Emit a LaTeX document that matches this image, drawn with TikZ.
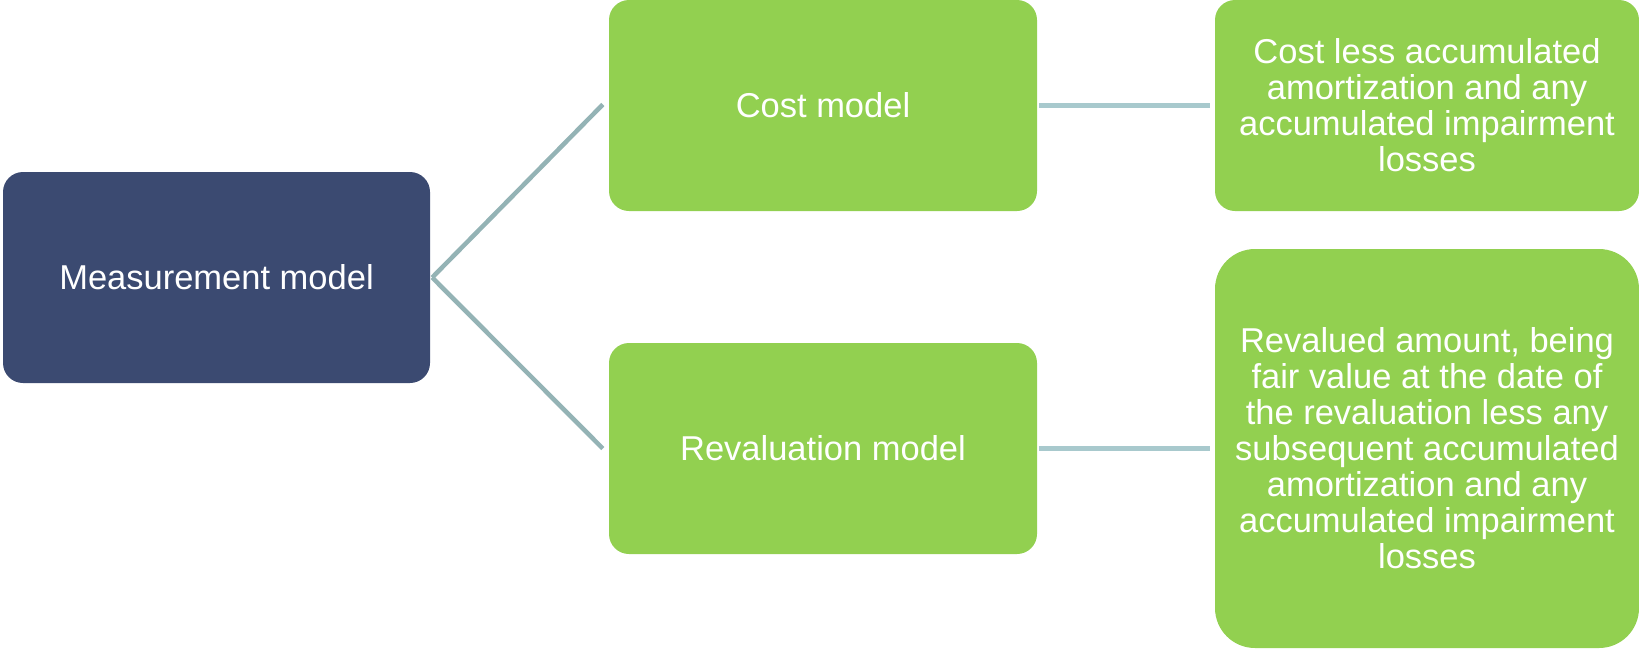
\documentclass[tikz,border=0pt]{standalone}
\usepackage{fontspec}
\setmainfont{Liberation Sans}
\definecolor{navy}{HTML}{3B4A71}
\definecolor{leaf}{HTML}{92D050}
\definecolor{diagline}{HTML}{94B3B5}
\definecolor{horline}{HTML}{A8C9CD}
\begin{document}
\begin{tikzpicture}[x=1pt,y=-1pt,
  box/.style={rectangle, rounded corners=20pt, draw=none, text=white, align=center,
    font=\fontsize{34.5}{36}\selectfont, inner sep=0pt},
  conn/.style={line width=4.5pt}]
\useasboundingbox (0,0) rectangle (1639,649);
\node[box, fill=navy, minimum width=427pt, minimum height=211pt] (m) at (216.5,277.5) {Measurement model};
\node[box, fill=leaf, minimum width=428pt, minimum height=211pt] (c) at (823,105.5) {Cost model};
\node[box, fill=leaf, minimum width=428pt, minimum height=211pt] (r) at (823,448.5) {Revaluation model};
\node[box, fill=leaf, minimum width=424pt, minimum height=211pt] (ct) at (1427,105.5) {Cost less accumulated\\amortization and any\\accumulated impairment\\losses};
\node[box, fill=leaf, rounded corners=40pt, minimum width=424pt, minimum height=399pt] (rt) at (1427,448.5) {Revalued amount, being\\fair value at the date of\\the revaluation less any\\subsequent accumulated\\amortization and any\\accumulated impairment\\losses};
\coordinate (mj) at ([xshift=2pt]m.east);
\draw[conn, diagline] (mj) -- ([xshift=-6pt,yshift=1pt]c.west);
\draw[conn, diagline] (mj) -- ([xshift=-6pt]r.west);
\draw[conn, horline] ([xshift=2pt]c.east) -- ([xshift=-5pt]ct.west);
\draw[conn, horline] ([xshift=2pt]r.east) -- ([xshift=-5pt]rt.west);
\end{tikzpicture}
\end{document}
